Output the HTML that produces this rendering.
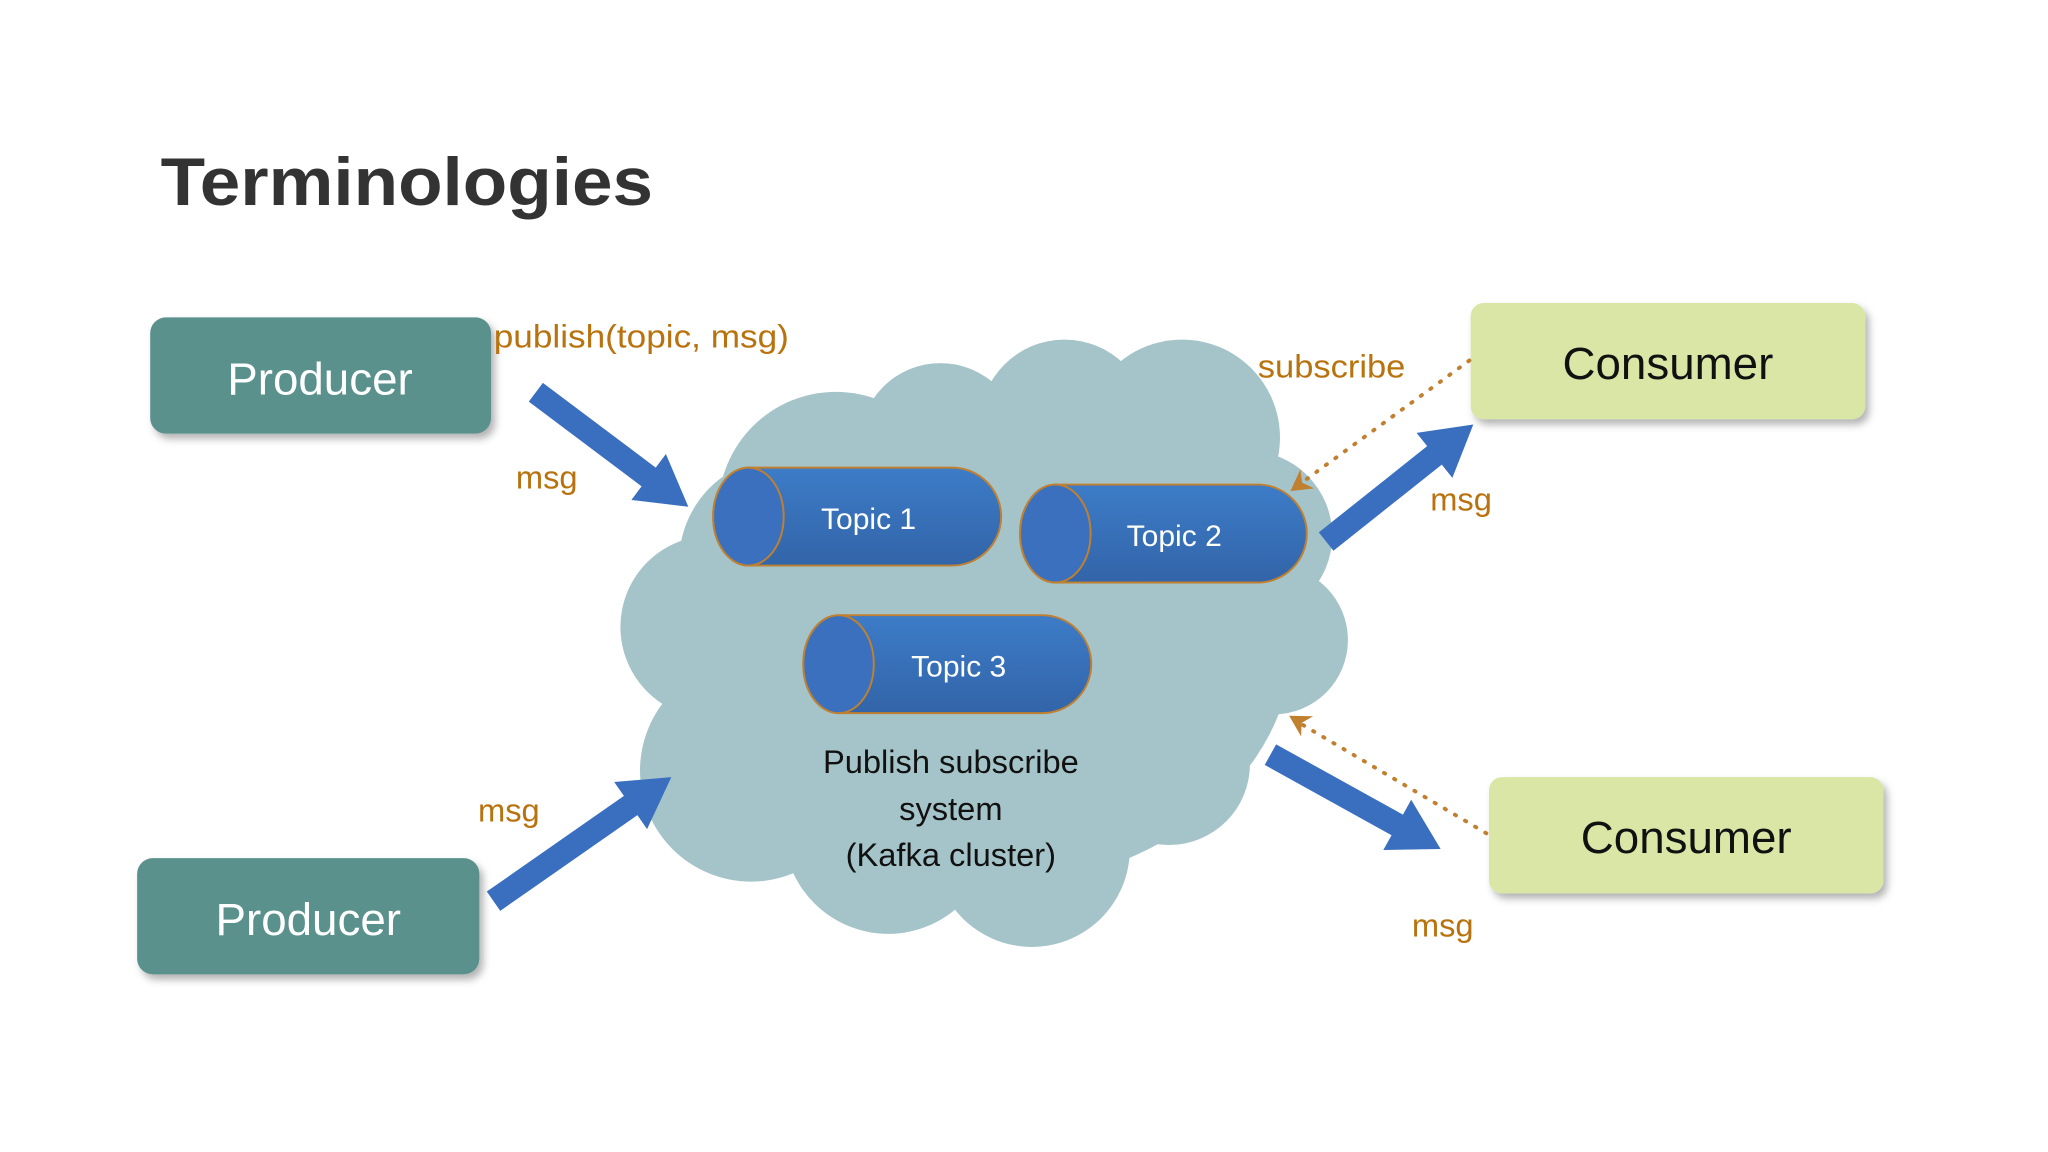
<!DOCTYPE html>
<html><head><meta charset="utf-8"><style>html,body{margin:0;padding:0;background:#fff}svg{display:block}</style></head>
<body>
<svg width="2048" height="1152" viewBox="0 0 1568 882" xmlns="http://www.w3.org/2000/svg" font-family="'Liberation Sans', sans-serif">
<defs>
<linearGradient id="cyl" x1="0" y1="0" x2="0" y2="1"><stop offset="0" stop-color="#3d7cc8"/><stop offset="1" stop-color="#3264a8"/></linearGradient>
<filter id="sh" x="-10%" y="-10%" width="130%" height="140%"><feDropShadow dx="3" dy="4" stdDeviation="3" flood-color="#000" flood-opacity="0.3"/></filter>
</defs>
<text x="123" y="157" font-size="52" font-weight="bold" fill="#333" textLength="377" lengthAdjust="spacingAndGlyphs">Terminologies</text>

<g fill="#a5c4c9">
<circle cx="640" cy="390" r="90"/><circle cx="720" cy="340" r="62"/><circle cx="815" cy="325" r="65"/>
<circle cx="905" cy="335" r="75"/><circle cx="955" cy="410" r="65"/><circle cx="975" cy="490" r="57"/>
<circle cx="895" cy="585" r="62"/><circle cx="790" cy="650" r="75"/><circle cx="680" cy="635" r="80"/>
<circle cx="575" cy="590" r="85"/><circle cx="545" cy="480" r="70"/><circle cx="600" cy="430" r="80"/>
<ellipse cx="750" cy="490" rx="240" ry="190"/>
</g>

<g stroke="#c08030" stroke-width="1.5">
<path d="M573,358 H729 A37.5,37.5 0 0 1 729,433 H573 A27,37.5 0 0 1 573,358Z" fill="url(#cyl)"/>
<ellipse cx="573" cy="395.5" rx="27" ry="37.5" fill="#3a70bd"/>
<path d="M808,371 H963 A37.5,37.5 0 0 1 963,446 H808 A27,37.5 0 0 1 808,371Z" fill="url(#cyl)"/>
<ellipse cx="808" cy="408.5" rx="27" ry="37.5" fill="#3a70bd"/>
<path d="M642,471 H798 A37.5,37.5 0 0 1 798,546 H642 A27,37.5 0 0 1 642,471Z" fill="url(#cyl)"/>
<ellipse cx="642" cy="508.5" rx="27" ry="37.5" fill="#3a70bd"/>
</g>
<g fill="#fff" font-size="23" text-anchor="middle">
<text x="665" y="405">Topic 1</text><text x="899" y="418">Topic 2</text><text x="734" y="518">Topic 3</text>
</g>
<g fill="#111" font-size="25" text-anchor="middle">
<text x="728" y="592">Publish subscribe</text><text x="728" y="628">system</text><text x="728" y="663">(Kafka cluster)</text>
</g>

<g filter="url(#sh)">
<rect x="115" y="243" width="261" height="89" rx="12" fill="#5a918c"/>
<rect x="105" y="657" width="262" height="89" rx="12" fill="#5a918c"/>
<rect x="1126" y="232" width="302" height="89" rx="10" fill="#d9e6a5"/>
<rect x="1140" y="595" width="302" height="89" rx="10" fill="#d9e6a5"/>
</g>
<g font-size="35" text-anchor="middle">
<text x="245" y="302" fill="#fff">Producer</text>
<text x="236" y="716" fill="#fff">Producer</text>
<text x="1277" y="290" fill="#111">Consumer</text>
<text x="1291" y="653" fill="#111">Consumer</text>
</g>

<g fill="#3a6fc0">
<polygon transform="translate(527,388) rotate(36.9)" points="0,0 -38,-22 -38,-9 -146,-9 -146,9 -38,9 -38,22"/>
<polygon transform="translate(514,595) rotate(-34.9)" points="0,0 -38,-22 -38,-9 -166,-9 -166,9 -38,9 -38,22"/>
<polygon transform="translate(1128,325) rotate(-38.5)" points="0,0 -38,-22 -38,-9 -144,-9 -144,9 -38,9 -38,22"/>
<polygon transform="translate(1103,650) rotate(29)" points="0,0 -38,-22 -38,-9 -149,-9 -149,9 -38,9 -38,22"/>
</g>

<g stroke="#c08030" stroke-width="3" stroke-dasharray="1 8" stroke-linecap="round" fill="none">
<line x1="1125" y1="276" x2="996" y2="370"/>
<line x1="1138" y1="638" x2="994" y2="553"/>
</g>
<g fill="#c08030">
<polygon transform="translate(988,376) rotate(-36)" points="0,0 16,-9 11,0 16,9"/>
<polygon transform="translate(987,548) rotate(30.5)" points="0,0 16,-9 11,0 16,9"/>
</g>

<g fill="#b8730f" font-size="25">
<text x="378" y="266" textLength="226" lengthAdjust="spacingAndGlyphs">publish(topic, msg)</text>
<text x="395" y="374">msg</text>
<text x="366" y="629">msg</text>
<text x="963" y="289" textLength="113" lengthAdjust="spacingAndGlyphs">subscribe</text>
<text x="1095" y="391">msg</text>
<text x="1081" y="717">msg</text>
</g>
</svg>
</body></html>
